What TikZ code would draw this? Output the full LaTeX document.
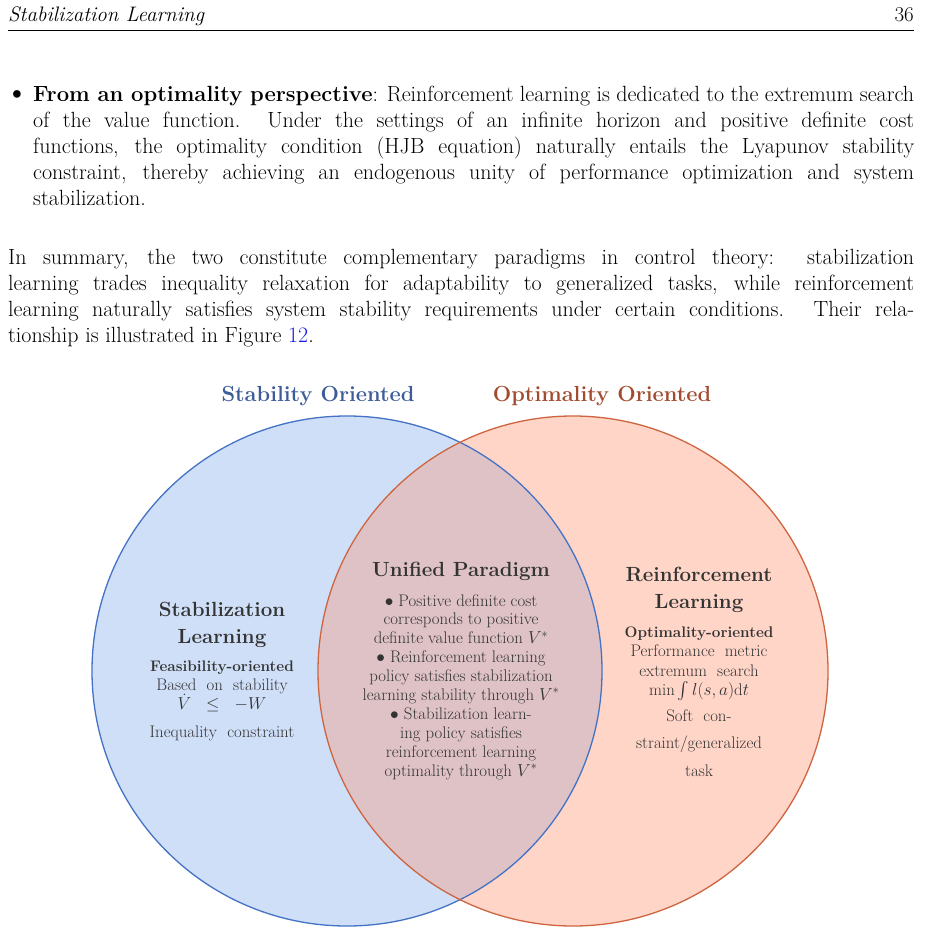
\documentclass[tikz,border=0pt]{standalone}
\usepackage{amsmath}
\usepackage{fontspec}
\definecolor{leftfill}{HTML}{CFDFF7}
\definecolor{rightfill}{HTML}{FFD5C7}
\definecolor{midfill}{HTML}{DEC2C6}
\definecolor{leftline}{HTML}{4472C4}
\definecolor{rightline}{HTML}{CF6540}
\definecolor{titleblue}{HTML}{3E5C98}
\definecolor{titlered}{HTML}{A24B2E}
\definecolor{inktext}{HTML}{333333}
\definecolor{linkblue}{HTML}{1A1AE6}
\tikzset{
  bodyline/.style={anchor=base west, inner sep=0pt, font=\fontsize{22}{26}\selectfont},
  ctitle/.style={anchor=base, inner sep=0pt, font=\fontsize{21.8}{26}\selectfont\bfseries},
  chead/.style={anchor=base, inner sep=0pt, text=inktext, font=\fontsize{20.5}{26}\selectfont\bfseries},
  cline/.style={anchor=base, inner sep=0pt, text=inktext, font=\fontsize{16.8}{19}\selectfont},
  csub/.style={anchor=base, inner sep=0pt, text=inktext, font=\fontsize{15.3}{19}\selectfont\bfseries},
  circleline/.style={line width=1.3pt}
}
\begin{document}
\begin{tikzpicture}[x=1pt,y=-1pt]
\useasboundingbox (0,0) rectangle (924,933);
\fill[white] (0,0) rectangle (924,933);

% header
\node[anchor=base west, inner sep=0pt, font=\fontsize{21}{26}\selectfont\itshape] (hdr) at (8,22) {Stabilization Learning};
\node[anchor=base east, inner sep=0pt, font=\fontsize{21}{26}\selectfont] (pg) at (914,22) {36};
\draw[line width=0.8pt] (8,30) -- (914,30);

% bullet paragraph
\node[inner sep=0pt, font=\fontsize{26}{26}\selectfont\bfseries] (bul) at (17,96) {\textbullet};
\node[bodyline] (b1) at (33,102) {\makebox[881pt][s]{\textbf{From an optimality perspective}: Reinforcement learning is dedicated to the extremum search}};
\node[bodyline] (b2) at (33,128) {\makebox[881pt][s]{of the value function.\ \ Under the settings of an infinite horizon and positive definite cost}};
\node[bodyline] (b3) at (33,154) {\makebox[881pt][s]{functions, the optimality condition (HJB equation) naturally entails the Lyapunov stability}};
\node[bodyline] (b4) at (33,180) {\makebox[881pt][s]{constraint, thereby achieving an endogenous unity of performance optimization and system}};
\node[bodyline] (b5) at (33,206) {stabilization.};

% summary paragraph
\node[bodyline] (p1) at (8,264) {\makebox[906pt][s]{In summary, the two constitute complementary paradigms in control theory:\ \ stabilization}};
\node[bodyline] (p2) at (8,290) {\makebox[906pt][s]{learning trades inequality relaxation for adaptability to generalized tasks, while reinforcement}};
\node[bodyline] (p3) at (8,316) {\makebox[906pt][s]{learning naturally satisfies system stability requirements under certain conditions. Their rela-}};
\node[bodyline] (p4) at (8,342) {tionship is illustrated in Figure \textcolor{linkblue}{12}.};

% Venn diagram
\coordinate (cl) at (347,671);
\coordinate (cr) at (573,671);
\fill[leftfill] (cl) circle[radius=255pt];
\fill[rightfill] (cr) circle[radius=255pt];
\begin{scope}
  \clip (cl) circle[radius=255pt];
  \fill[midfill] (cr) circle[radius=255pt];
\end{scope}
\draw[leftline, circleline] (cl) circle[radius=255pt];
\draw[rightline, circleline] (cr) circle[radius=255pt];

% titles
\node[ctitle, text=titleblue] (tl) at (318,401) {Stability Oriented};
\node[ctitle, text=titlered] (tr) at (602,401) {Optimality Oriented};

% left block
\node[chead] (l1) at (222,616) {Stabilization};
\node[chead] (l2) at (222,643) {Learning};
\node[csub] (l3) at (222,671.5) {Feasibility-oriented};
\node[cline] (l4) at (222,690.5) {Based\ \ on\ \ stability};
\node[cline] (l5) at (222,709.5) {$\dot V\ \ \le\ \ -W$};
\node[cline] (l6) at (222,737.5) {Inequality\ \ constraint};

% middle block
\node[chead] (m0) at (461,576) {Unified Paradigm};
\node[cline] (m1) at (461,606) {$\bullet$ Positive definite cost};
\node[cline] (m2) at (461,624.5) {corresponds to positive};
\node[cline] (m3) at (461,643.5) {definite value function $V^{*}$};
\node[cline] (m4) at (461,662.3) {$\bullet$ Reinforcement learning};
\node[cline] (m5) at (461,681) {policy satisfies stabilization};
\node[cline] (m6) at (461,700) {learning stability through $V^{*}$};
\node[cline] (m7) at (461,719.3) {$\bullet$ Stabilization learn-};
\node[cline] (m8) at (461,738) {ing policy satisfies};
\node[cline] (m9) at (461,757) {reinforcement learning};
\node[cline] (m10) at (461,776) {optimality through $V^{*}$};

% right block
\node[chead] (r1) at (699,581.7) {Reinforcement};
\node[chead] (r2) at (699,608.3) {Learning};
\node[csub] (r3) at (699,637.7) {Optimality-oriented};
\node[cline] (r4) at (699,656.7) {Performance\ \ metric};
\node[cline] (r5) at (699,676) {extremum\ \ search};
\node[cline] (r6) at (699,695) {$\min\int l(s,a)\mathrm{d}t$};
\node[cline] (r7) at (699,721.7) {Soft\ \ con-};
\node[cline] (r8) at (699,748.3) {straint/generalized};
\node[cline] (r9) at (699,776) {task};
\end{tikzpicture}
\end{document}
